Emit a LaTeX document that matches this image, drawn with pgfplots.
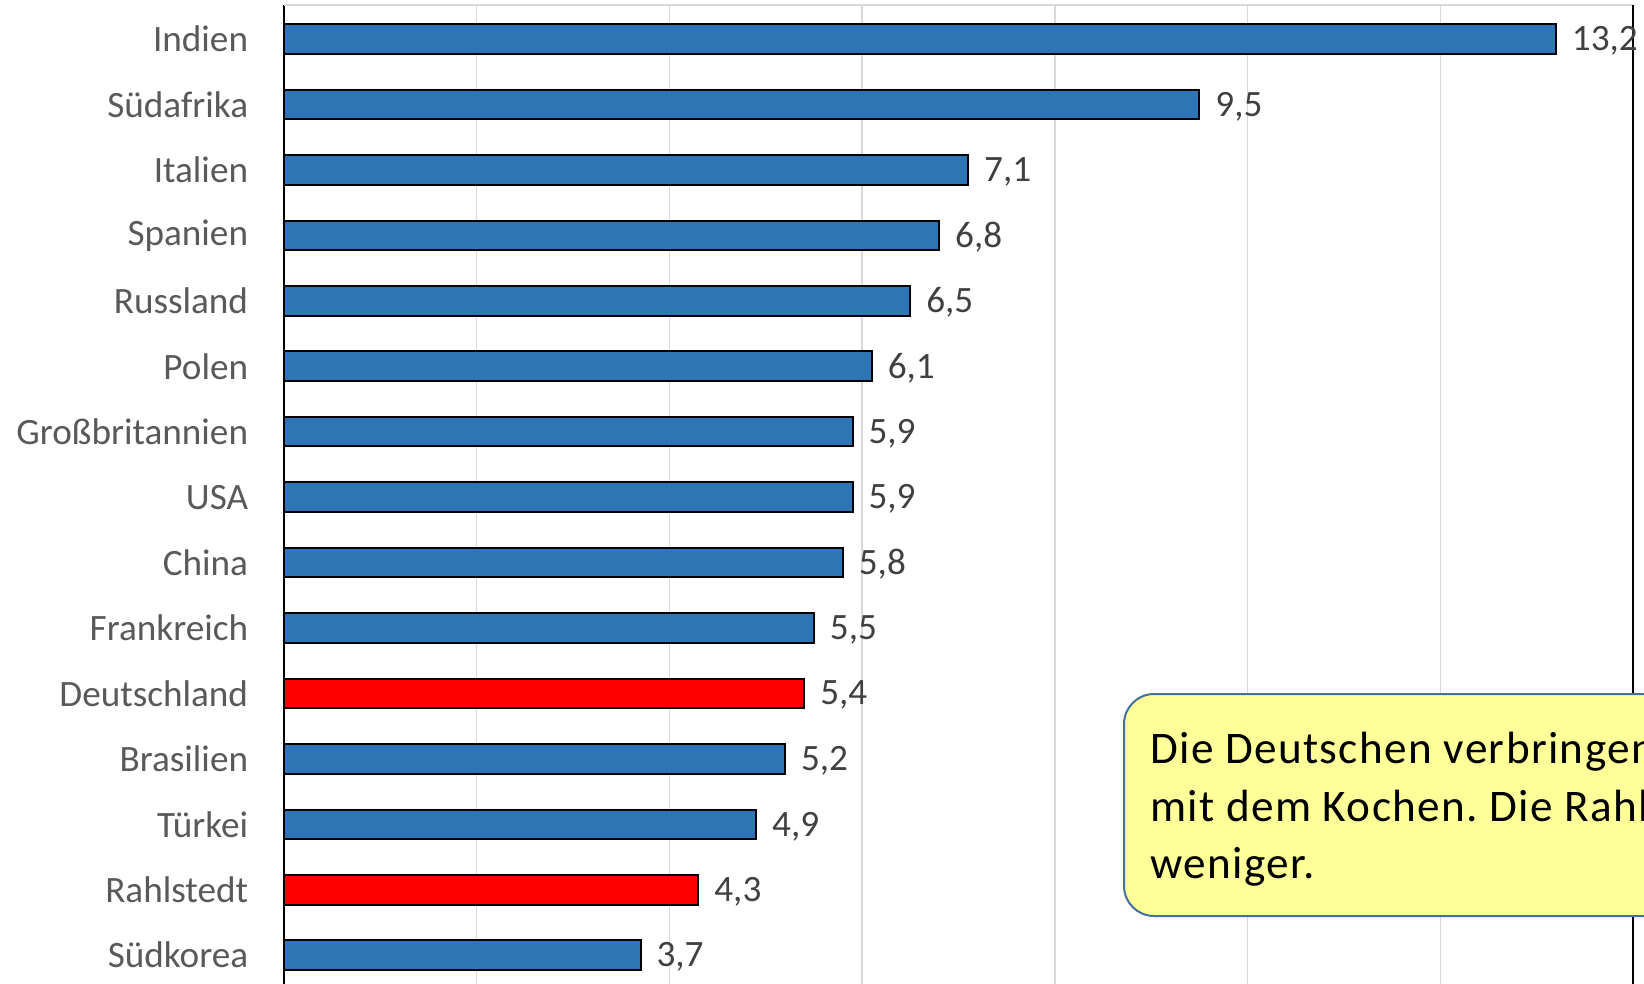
\documentclass[border=0pt]{standalone}
\usepackage{fontspec}
\setmainfont{Carlito}
\newfontfamily\boxfont[LetterSpace=3.0]{Carlito}
\usepackage{pgfplots}
\pgfplotsset{compat=1.18}
\definecolor{barblue}{HTML}{2E75B6}
\definecolor{barred}{HTML}{FF0000}
\definecolor{gridgray}{HTML}{D9D9D9}
\definecolor{labgray}{HTML}{595959}
\definecolor{valgray}{HTML}{404040}
\definecolor{boxfill}{HTML}{FFFF99}
\definecolor{boxline}{HTML}{41719C}
\frenchspacing
\begin{document}
\begin{tikzpicture}
\useasboundingbox (0,0) rectangle (822pt,-492pt);
\clip (0,0) rectangle (822pt,-492pt);
\begin{axis}[
  at={(142pt,-2.5pt)}, anchor=north west,
  scale only axis, width=674.5pt, height=492.1pt,
  xbar, bar shift=0pt, bar width=14.8pt,
  xmin=0, xmax=14, ymin=-0.52, ymax=14.52,
  y dir=reverse,
  clip=false,
  axis line style={draw=none},
  xtick={0,2,...,14}, xticklabels={},
  xmajorgrids, grid style={gridgray, line width=0.75pt},
  ytick={0,...,14},
  yticklabels={Indien,Südafrika,Italien,Spanien,Russland,Polen,Großbritannien,USA,China,Frankreich,Deutschland,Brasilien,Türkei,Rahlstedt,Südkorea},
  major tick length=0pt,
  yticklabel style={font=\fontsize{18.6}{22}\selectfont, text=labgray, inner sep=0pt, xshift=-17.75pt},
  point meta=x,
  nodes near coords={\pgfmathprintnumber[fixed,fixed zerofill,precision=1,use comma,assume math mode=true]{\pgfplotspointmeta}},
  every node near coord/.append style={font=\fontsize{18.6}{22}\selectfont, text=valgray, anchor=west, inner sep=0pt, xshift=7.5pt, yshift=-1pt},
]
\addplot[draw=black, line width=1pt, fill=barblue] coordinates {
 (13.2,0) (9.5,1) (7.1,2) (6.8,3) (6.5,4) (6.1,5) (5.9,6) (5.9,7) (5.8,8) (5.5,9) (5.2,11) (4.9,12) (3.7,14)};
\addplot[draw=black, line width=1pt, fill=barred] coordinates {
 (5.4,10) (4.3,13)};
\draw[black, line width=1pt] (axis cs:0,-0.52) -- (axis cs:0,14.52);
\draw[gridgray, line width=1pt] (axis cs:0,-0.52) -- (axis cs:14,-0.52);
\draw[black, line width=1pt] (axis cs:14,-0.52) -- (axis cs:14,14.52);
\end{axis}
\draw[boxline, line width=1pt, fill=boxfill, rounded corners=15pt] (562pt,-347pt) rectangle (1100pt,-458pt);
\node[anchor=base west, inner sep=0pt, font=\boxfont\fontsize{22.6}{28}\selectfont] at (575pt,-381.5pt) {Die Deutschen verbringen 5,4 Stunden pro Woche};
\node[anchor=base west, inner sep=0pt, font=\boxfont\fontsize{22.6}{28}\selectfont] at (575pt,-410.5pt) {mit dem Kochen. Die Rahlstedter 1,1 Stunden};
\node[anchor=base west, inner sep=0pt, font=\boxfont\fontsize{22.6}{28}\selectfont] at (575pt,-439pt) {weniger.};
\end{tikzpicture}
\end{document}
